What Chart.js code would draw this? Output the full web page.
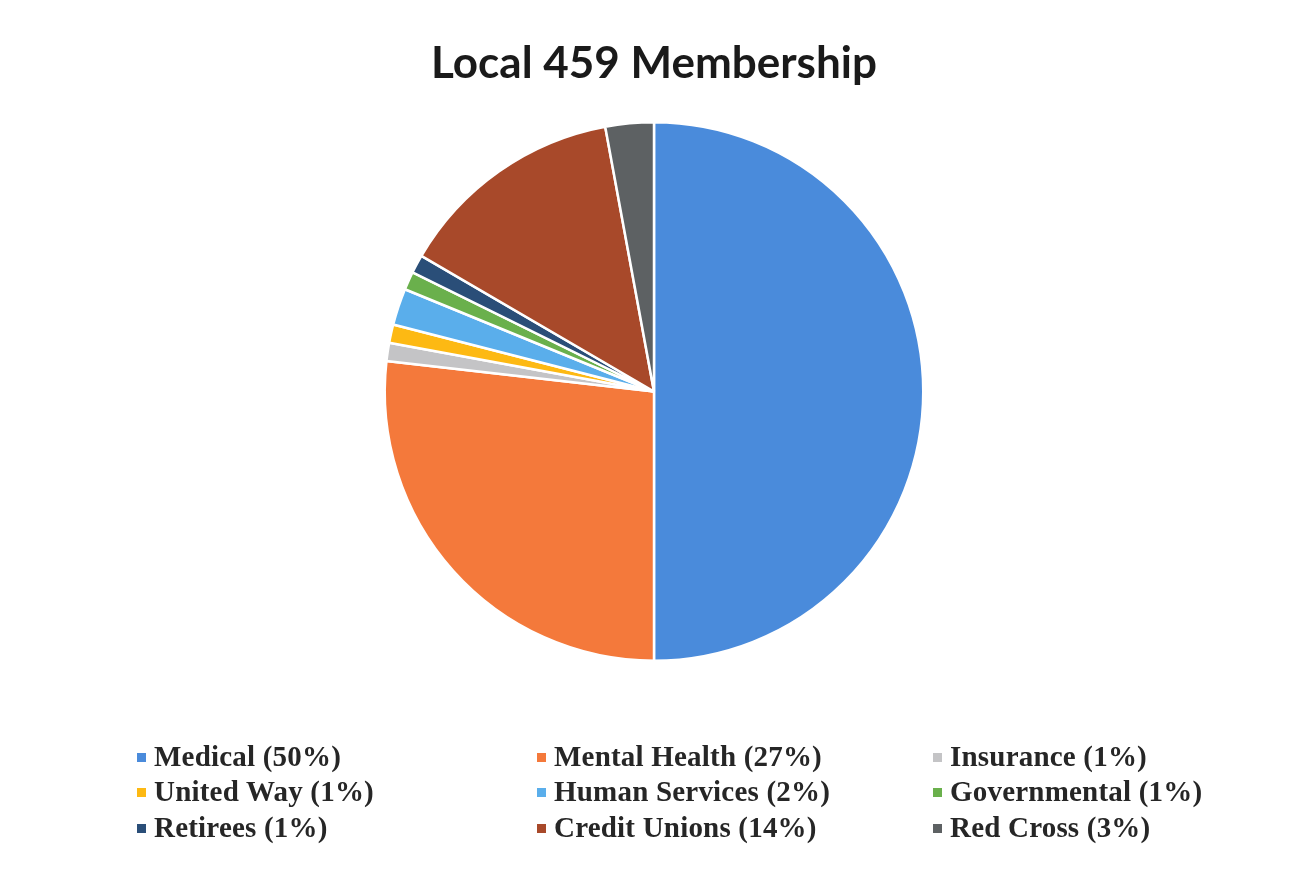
<!DOCTYPE html>
<html>
<head>
<meta charset="utf-8">
<script src="https://cdn.jsdelivr.net/npm/chart.js@4.4.1/dist/chart.umd.min.js"></script>
<style>
  html, body { margin: 0; padding: 0; background: #fff; }
  #wrap { position: relative; width: 1306px; height: 891px; }
  #legend { position: absolute; left: 0; top: 0; }
  .item { position: absolute; white-space: nowrap; font-family: "Liberation Serif", "Times New Roman", serif;
          font-weight: bold; font-size: 29px; letter-spacing: 0.2px; color: #262626; line-height: 36px; }
  .box { display: inline-block; width: 9px; height: 9px; margin-right: 8px; vertical-align: 4px; }
</style>
</head>
<body>
<div id="wrap">
  <canvas id="membershipChart" width="1306" height="891"></canvas>
  <div id="legend"></div>
</div>
<script>
var categories = ['Medical', 'Mental Health', 'Insurance', 'United Way', 'Human Services',
                  'Governmental', 'Retirees', 'Credit Unions', 'Red Cross'];
var shares = [50, 26.8, 1.1, 1.1, 2.2, 1.1, 1.1, 13.7, 2.9];
var shareLabels = ['50%', '27%', '1%', '1%', '2%', '1%', '1%', '14%', '3%'];
var colors = ['#4a8bdb', '#f4793b', '#c4c4c6', '#fdb913', '#5aaeeb',
              '#6ab04c', '#2a4e78', '#a8492a', '#5d6163'];

var chart_membership = new Chart(document.getElementById('membershipChart'), {
    type: 'pie',
    data: {
        labels: categories,
        datasets: [{
            data: shares,
            backgroundColor: colors,
            borderColor: '#ffffff',
            borderWidth: 2.5
        }]
    },
    options: {
        animation: false,
        responsive: false,
        layout: {
            padding: { top: 0, bottom: 229, left: 383, right: 381 }
        },
        plugins: {
            legend: { display: false },
            tooltip: { enabled: false },
            title: {
                display: true,
                text: 'Local 459 Membership',
                color: '#1a1a1a',
                font: { family: 'Lato', weight: 'bold', size: 44, lineHeight: 1.2 },
                padding: { top: 37, bottom: 31.2 }
            }
        }
    }
});

// legend in three columns, same layout as the reference
var legendEl = document.getElementById('legend');
var colX = [137, 537, 933];
var rowY = [738, 773, 809];
categories.forEach(function (name, i) {
    var div = document.createElement('div');
    div.className = 'item';
    div.style.left = colX[i % 3] + 'px';
    div.style.top = rowY[Math.floor(i / 3)] + 'px';
    var box = document.createElement('span');
    box.className = 'box';
    box.style.background = colors[i];
    div.appendChild(box);
    div.appendChild(document.createTextNode(name + ' (' + shareLabels[i] + ')'));
    legendEl.appendChild(div);
});
</script>
</body>
</html>
